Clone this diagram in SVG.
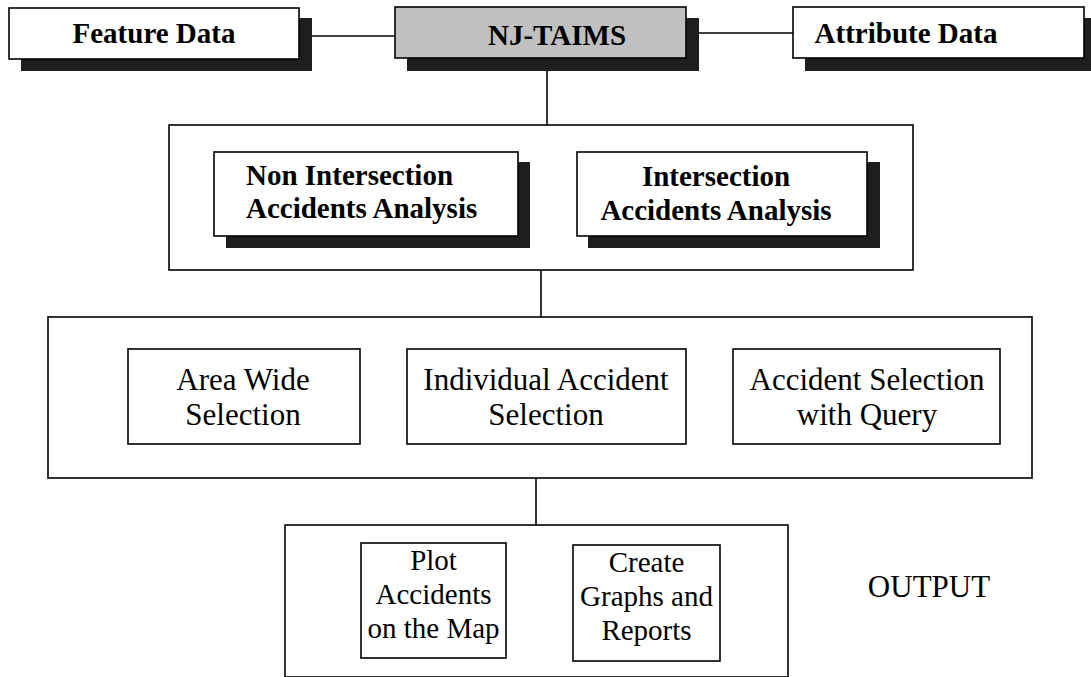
<svg xmlns="http://www.w3.org/2000/svg" width="1091" height="677" viewBox="0 0 1091 677">
<style>
  .shadow { fill: #1e1e1e; stroke: none; }
  .box { fill: #ffffff; stroke: #000; stroke-width: 1.6; }
  .gray { fill: #c0c0c0; stroke: #000; stroke-width: 1.6; }
  .frame { fill: none; stroke: #000; stroke-width: 1.6; }
  .conn { stroke: #000; stroke-width: 1.6; fill: none; }
  .bt { font-family: "Liberation Serif", "Times New Roman", serif; font-weight: bold; font-size: 29px; fill: #000; }
  .rt { font-family: "Liberation Serif", "Times New Roman", serif; font-size: 31px; fill: #000; }
  .st { font-family: "Liberation Serif", "Times New Roman", serif; font-size: 29px; fill: #000; }
</style>
<rect width="1091" height="677" fill="#ffffff"/>

<g id="connectors">
  <line class="conn" x1="300" y1="36" x2="395" y2="36"/>
  <line class="conn" x1="686" y1="33" x2="793" y2="33"/>
  <line class="conn" x1="547" y1="71" x2="547" y2="125"/>
  <line class="conn" x1="541" y1="270" x2="541" y2="317"/>
  <line class="conn" x1="536" y1="478" x2="536" y2="525"/>
</g>

<g id="feature-data">
  <rect class="shadow" x="21" y="18" width="291" height="53"/>
  <rect class="box" x="9" y="8" width="290" height="51"/>
  <text class="bt" x="154" y="43" text-anchor="middle">Feature Data</text>
</g>

<g id="nj-taims">
  <rect class="shadow" x="407" y="18" width="292" height="53"/>
  <rect class="gray" x="395" y="7" width="291" height="51"/>
  <text class="bt" x="557" y="45" text-anchor="middle">NJ-TAIMS</text>
</g>

<g id="attribute-data">
  <rect class="shadow" x="805" y="18" width="286" height="53"/>
  <rect class="box" x="793" y="7" width="291" height="51"/>
  <text class="bt" x="906" y="43" text-anchor="middle">Attribute Data</text>
</g>

<g id="analysis-group">
  <rect class="frame" x="169" y="125" width="744" height="145"/>
</g>

<g id="non-intersection">
  <rect class="shadow" x="226" y="162" width="304" height="86"/>
  <rect class="box" x="214" y="152" width="304" height="84"/>
  <text class="bt" x="246" y="185">Non Intersection</text>
  <text class="bt" x="246" y="218">Accidents Analysis</text>
</g>

<g id="intersection">
  <rect class="shadow" x="588" y="162" width="292" height="86"/>
  <rect class="box" x="577" y="152" width="290" height="84"/>
  <text class="bt" x="716" y="186" text-anchor="middle">Intersection</text>
  <text class="bt" x="716" y="220" text-anchor="middle">Accidents Analysis</text>
</g>

<g id="selection-group">
  <rect class="frame" x="48" y="317" width="984" height="161"/>
</g>

<g id="area-wide">
  <rect class="box" x="128" y="349" width="232" height="95"/>
  <text class="rt" x="243" y="390" text-anchor="middle">Area Wide</text>
  <text class="rt" x="243" y="425" text-anchor="middle">Selection</text>
</g>

<g id="individual">
  <rect class="box" x="407" y="349" width="279" height="95"/>
  <text class="rt" x="546" y="390" text-anchor="middle">Individual Accident</text>
  <text class="rt" x="546" y="425" text-anchor="middle">Selection</text>
</g>

<g id="query">
  <rect class="box" x="733" y="349" width="267" height="95"/>
  <text class="rt" x="867" y="390" text-anchor="middle">Accident Selection</text>
  <text class="rt" x="867" y="425" text-anchor="middle">with Query</text>
</g>

<g id="output-group">
  <rect class="frame" x="285" y="525" width="503" height="152"/>
</g>

<g id="plot">
  <rect class="box" x="361" y="543" width="145" height="115"/>
  <text class="st" x="433.5" y="570" text-anchor="middle">Plot</text>
  <text class="st" x="433.5" y="604" text-anchor="middle">Accidents</text>
  <text class="st" x="433.5" y="638" text-anchor="middle">on the Map</text>
</g>

<g id="graphs">
  <rect class="box" x="573" y="545" width="147" height="116"/>
  <text class="st" x="646.5" y="572" text-anchor="middle">Create</text>
  <text class="st" x="646.5" y="606" text-anchor="middle">Graphs and</text>
  <text class="st" x="646.5" y="640" text-anchor="middle">Reports</text>
</g>

<g id="output-label">
  <text class="rt" x="929" y="597" text-anchor="middle">OUTPUT</text>
</g>
</svg>
